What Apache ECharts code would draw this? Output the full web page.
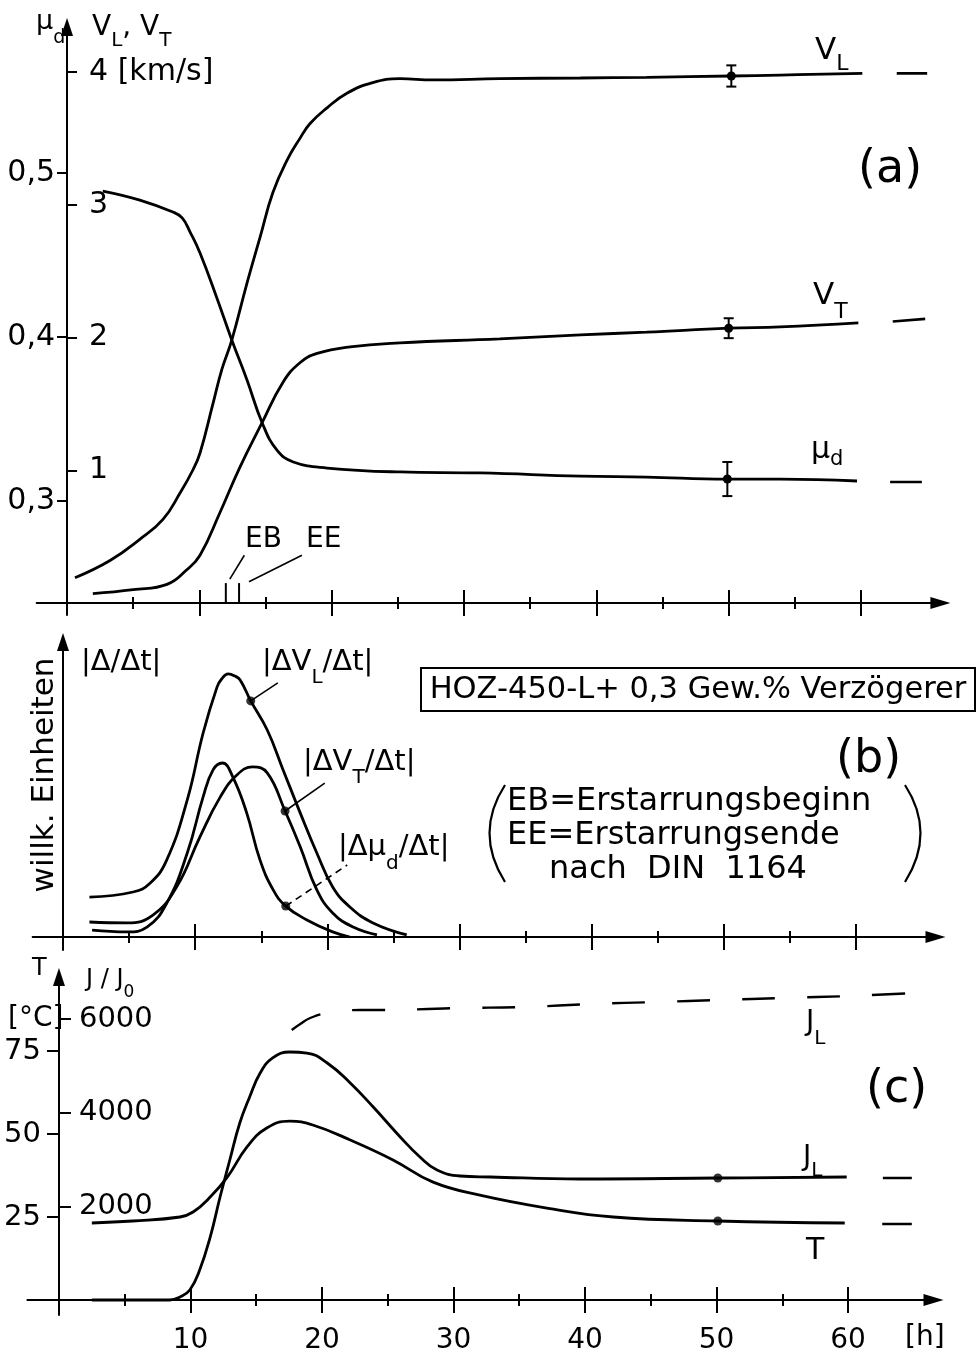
<!DOCTYPE html>
<html>
<head>
<meta charset="utf-8">
<script src="https://cdn.jsdelivr.net/npm/echarts@6/dist/echarts.min.js"></script>
<style>
  html, body { margin: 0; padding: 0; background: #fff; }
  #chart { width: 979px; height: 1358px; }
</style>
</head>
<body>
<div id="chart"></div>
<script>
// ---------- (a) velocities V_L, V_T [km/s] and damping mu_d over time [h] ----------
const vL = [[0.6,0.19],[3.25,0.32],[5.5,0.48],[7.25,0.63],[8.55,0.83],[9.5,1.0],[10.05,1.13],[11.0,1.49],
  [11.7,1.76],[12.45,1.98],[13.6,2.41],[14.6,2.76],[15.55,3.09],[16.65,3.34],[17.6,3.5],[18.35,3.61],
  [19.65,3.73],[21.15,3.84],[23.1,3.92],[25.15,3.95],[27.65,3.94],[32.7,3.95],[38.8,3.955],[43.8,3.96],
  [50.2,3.97],[53.9,3.977],[60.1,3.99]];
const vLTail = [[62.7,3.99],[65.0,3.99]];
const vT = [[1.95,0.07],[5.0,0.10],[7.55,0.14],[9.05,0.25],[10.05,0.36],[11.55,0.68],[13.05,1.02],[14.75,1.36],
  [16.3,1.66],[17.6,1.81],[18.9,1.88],[21.4,1.93],[25.15,1.96],[32.7,1.99],[38.8,2.02],[43.8,2.04],
  [50.0,2.07],[53.9,2.08],[59.8,2.11]];
const vTTail = [[62.4,2.12],[64.85,2.14]];
const muD = [[2.7,0.489],[5.5,0.4835],[8.0,0.4762],[8.7,0.4726],[9.3,0.464],[10.05,0.4512],[11.35,0.4232],
  [12.45,0.3982],[13.6,0.3738],[14.75,0.3476],[15.85,0.3311],[17.1,0.3238],[19.65,0.3201],[25.15,0.3177],
  [31.2,0.3171],[38.8,0.3152],[43.8,0.3146],[49.9,0.3134],[53.9,0.3134],[59.7,0.3122]];
const muDTail = [[62.2,0.3116],[64.6,0.3116]];
// measured points with scatter: [h, value, half range]
const velocityErr = [[50.2,3.97,0.08],[50.0,2.07,0.075]];
const dampingErr = [[49.9,0.3134,0.0104]];
// setting marks: EB (Erstarrungsbeginn) and EE (Erstarrungsende) [h]
const settingMarks = [12.0, 13.0];
const vTicks = [1, 2, 3, 4];
const muTicks = [0.3, 0.4, 0.5];

// ---------- (b) rates |Δ/Δt|, arbitrary units ----------
const rateVL = [[2.0,1.33],[5.3,1.5],[6.6,1.8],[7.85,2.57],[9.4,4.57],[10.6,6.8],[11.65,8.33],[12.0,8.6],
  [12.5,8.77],[13.0,8.7],[13.4,8.57],[14.2,7.87],[15.45,6.9],[16.65,5.57],[17.95,4.13],[19.2,2.8],
  [20.4,1.67],[21.7,1.0],[23.45,0.47],[26.0,0.07]];
const rateVT = [[2.0,0.5],[4.85,0.47],[6.8,0.73],[8.6,1.67],[10.35,3.33],[11.9,4.67],[13.15,5.4],[14.35,5.67],
  [15.45,5.47],[16.8,4.2],[17.95,3.0],[19.2,1.57],[20.4,0.8],[21.95,0.33],[23.75,0.07]];
const rateMu = [[2.2,0.23],[4.85,0.17],[6.35,0.33],[7.85,1.13],[9.4,2.8],[10.6,4.67],[11.35,5.57],[12.05,5.8],
  [12.85,5.33],[13.9,4.13],[14.9,2.57],[15.9,1.57],[16.85,1.03],[18.45,0.57],[20.4,0.17],[21.7,0.0]];
const rateDots = [[14.2,7.87],[16.8,4.2],[16.85,1.03]];
const rateLeaders = [[[14.2,7.87],[16.25,8.47]],[[16.8,4.2],[19.8,5.13]]];
const rateLeaderMu = [[16.85,1.03],[21.5,2.4]];

// ---------- (c) temperature T [°C] and J/J0 ----------
const jL = [[2.5,0],[7.0,0],[8.4,0],[9.2,64],[9.95,214],[10.7,641],[11.5,1345],[12.25,2199],[13.0,3000],
  [13.75,3780],[14.5,4335],[15.3,4847],[16.25,5168],[17.55,5296],[18.85,5274],[20.4,5061],[22.15,4634],
  [23.9,4121],[25.95,3481],[27.45,3054],[28.75,2776],[30.5,2648],[32.8,2627],[39.6,2584],[50.1,2605],[59.9,2627]];
const jLTail = [[62.65,2605],[64.85,2605]];
const jLUpper = [[17.7,5766],[18.35,5894],[19.1,6022],[20.4,6129],[22.9,6193],[25.55,6193],[28.05,6214],
  [30.5,6235],[35.45,6257],[40.55,6321],[45.5,6364],[50.25,6407],[55.05,6449],[60.15,6492],[65.1,6556]];
const temp = [[2.5,23.2],[5.6,23.8],[9.2,25.0],[10.2,26.5],[11.5,31.0],[12.8,37.0],[14.3,46.1],[15.8,51.8],
  [17.55,53.9],[19.3,52.7],[22.15,48.2],[25.4,42.2],[28.45,35.5],[32.0,31.6],[37.1,27.7],[42.15,25.0],
  [50.1,23.8],[59.75,23.2]];
const tempTail = [[62.6,22.9],[64.85,22.9]];
const jLDot = [[50.1,2605]];
const tempDot = [[50.1,23.8]];
const tTicks = [25, 50, 75];
const jTicks = [2000, 4000, 6000];
const hourLabels = [10, 20, 30, 40, 50, 60];
const majorHours = [10, 20, 30, 40, 50, 60];
const minorHours = [5, 15, 25, 35, 45, 55];

const FONT = 'DejaVu Sans';
const INK = '#000';

// ---- panel geometry (pixels) ----
const panels = [
  { left: 36.6, width: 903.8, top: 27, height: 588, xMin: -2.3, xMax: 66, axisOffset: -12 },
  { left: 32.6, width: 902.9, top: 642, height: 308, xMin: -2.3, xMax: 66, axisOffset: -13 },
  { left: 27.4, width: 906.1, top: 977, height: 338, xMin: -2.4, xMax: 66.5, axisOffset: -15 }
];

const grids = panels.map(p => ({ left: p.left, width: p.width, top: p.top, height: p.height,
  containLabel: false, outerBoundsMode: 'none' }));

function xAxesFor(gi, withLabels) {
  const p = panels[gi];
  const base = { type: 'value', gridIndex: gi, min: p.xMin, max: p.xMax, position: 'bottom',
    splitLine: { show: false } };
  const main = Object.assign({}, base, {
    offset: p.axisOffset,
    axisLine: { show: true, onZero: false, symbol: ['none', 'triangle'], symbolSize: [12, 20],
      lineStyle: { color: INK, width: 2 } },
    axisTick: { show: false },
    axisLabel: withLabels ? { show: true, customValues: hourLabels, margin: 41, verticalAlign: 'middle',
      fontSize: 28, fontFamily: FONT, color: INK } : { show: false }
  });
  const major = Object.assign({}, base, {
    offset: p.axisOffset + 13,
    axisLine: { show: false, onZero: false },
    axisTick: { show: true, inside: true, length: 26, customValues: majorHours,
      lineStyle: { color: INK, width: 2 } },
    axisLabel: { show: false }
  });
  const minor = Object.assign({}, base, {
    offset: p.axisOffset + 6,
    axisLine: { show: false, onZero: false },
    axisTick: { show: true, inside: true, length: 12, customValues: minorHours,
      lineStyle: { color: INK, width: 2 } },
    axisLabel: { show: false }
  });
  return [main, major, minor];
}

const xAxes = [].concat(xAxesFor(0, false), xAxesFor(1, false), xAxesFor(2, true));

function yAxis(gi, min, max, opts) {
  const p = panels[gi];
  const x0 = p.left - p.xMin * p.width / (p.xMax - p.xMin);
  return Object.assign({
    type: 'value', gridIndex: gi, min, max, position: 'left', offset: -(x0 - p.left),
    splitLine: { show: false }
  }, opts);
}

const arrowLine = { show: true, onZero: false, symbol: ['none', 'triangle'], symbolSize: [12, 18],
  lineStyle: { color: INK, width: 2 } };
const noLine = { show: false, onZero: false };

const yAxes = [
  // 0: V [km/s]
  yAxis(0, -0.0904, 4.339, {
    axisLine: arrowLine,
    axisTick: { show: true, inside: true, length: 10, customValues: vTicks, lineStyle: { color: INK, width: 2 } },
    axisLabel: { show: true, inside: true, margin: 22, customValues: vTicks, fontSize: 30, fontFamily: FONT,
      color: INK, formatter: v => (v === 4 ? '4 [km/s]' : String(v)) }
  }),
  // 1: mu_d
  yAxis(0, 0.23049, 0.58902, {
    axisLine: noLine,
    axisTick: { show: true, inside: false, length: 10, customValues: muTicks, lineStyle: { color: INK, width: 2 } },
    axisLabel: { show: true, margin: 12, customValues: muTicks, fontSize: 30, fontFamily: FONT, color: INK,
      formatter: v => v.toFixed(1).replace('.', ',') }
  }),
  // 2: rates, arbitrary units
  yAxis(1, -0.4333, 9.8333, {
    axisLine: arrowLine, axisTick: { show: false }, axisLabel: { show: false }
  }),
  // 3: T [°C]
  yAxis(2, -4.518, 97.29, {
    axisLine: arrowLine,
    axisTick: { show: true, inside: false, length: 12, customValues: tTicks, lineStyle: { color: INK, width: 2 } },
    axisLabel: { show: true, margin: 18, customValues: tTicks, fontSize: 29, fontFamily: FONT, color: INK }
  }),
  // 4: J/J0
  yAxis(2, -320.3, 6897.3, {
    axisLine: noLine,
    axisTick: { show: true, inside: true, length: 12, customValues: jTicks, lineStyle: { color: INK, width: 2 } },
    axisLabel: { show: true, inside: true, margin: 20, customValues: jTicks, fontSize: 29, fontFamily: FONT,
      color: INK, formatter: v => String(v) }
  })
];

function curve(data, xi, yi, extra) {
  return Object.assign({
    type: 'line', data, xAxisIndex: xi, yAxisIndex: yi, showSymbol: false, smooth: 0.45,
    lineStyle: { color: INK, width: 2.8 }, silent: true, z: 3
  }, extra || {});
}
function segment(data, xi, yi, width, dash) {
  return { type: 'line', data, xAxisIndex: xi, yAxisIndex: yi, showSymbol: false, silent: true,
    lineStyle: { color: INK, width: width, type: dash || 'solid' }, z: 3 };
}
function dots(data, xi, yi) {
  return { type: 'scatter', data, xAxisIndex: xi, yAxisIndex: yi, symbolSize: 9, silent: true,
    itemStyle: { color: INK }, z: 4 };
}
function errorBars(data, xi, yi) {
  return {
    type: 'custom', data, xAxisIndex: xi, yAxisIndex: yi, silent: true, z: 4,
    renderItem: function (params, api) {
      const x = api.value(0), y = api.value(1), e = api.value(2);
      const c = api.coord([x, y]);
      const t = api.coord([x, y + e]);
      const b = api.coord([x, y - e]);
      const s = { stroke: INK, lineWidth: 2 };
      return { type: 'group', children: [
        { type: 'line', shape: { x1: c[0], y1: t[1], x2: c[0], y2: b[1] }, style: s },
        { type: 'line', shape: { x1: c[0] - 5, y1: t[1], x2: c[0] + 5, y2: t[1] }, style: s },
        { type: 'line', shape: { x1: c[0] - 5, y1: b[1], x2: c[0] + 5, y2: b[1] }, style: s },
        { type: 'circle', shape: { cx: c[0], cy: c[1], r: 4.5 }, style: { fill: INK } }
      ] };
    }
  };
}

const series = [
  // (a)
  curve(vL, 0, 0), segment(vLTail, 0, 0, 2.6),
  curve(vT, 0, 0), segment(vTTail, 0, 0, 2.6),
  curve(muD, 0, 1), segment(muDTail, 0, 1, 2.6),
  errorBars(velocityErr, 0, 0), errorBars(dampingErr, 0, 1),
  segment([[settingMarks[0], 0], [settingMarks[0], 0.15]], 0, 0, 2),
  segment([[settingMarks[1], 0], [settingMarks[1], 0.15]], 0, 0, 2),
  segment([[12.3, 0.18], [13.4, 0.36]], 0, 0, 1.6),
  segment([[13.75, 0.16], [17.75, 0.36]], 0, 0, 1.6),
  // (b)
  curve(rateVL, 3, 2), curve(rateVT, 3, 2), curve(rateMu, 3, 2),
  dots(rateDots, 3, 2),
  segment(rateLeaders[0], 3, 2, 1.6), segment(rateLeaders[1], 3, 2, 1.6),
  segment(rateLeaderMu, 3, 2, 1.6, [7, 5]),
  // (c)
  curve(jL, 6, 4), segment(jLTail, 6, 4, 2.6),
  curve(temp, 6, 3), segment(tempTail, 6, 3, 2.6),
  curve(jLUpper, 6, 4, { lineStyle: { color: INK, width: 2.4, type: [33, 32] } }),
  dots(jLDot, 6, 4), dots(tempDot, 6, 3)
];

// ---- text helpers ----
const measureCtx = document.createElement('canvas').getContext('2d');
function txt(x, y, text, size, extra) {
  return Object.assign({ type: 'text', x, y, silent: true,
    style: Object.assign({ text, fontSize: size, fontFamily: FONT, fill: INK, align: 'left', verticalAlign: 'middle' },
      (extra && extra.style) || {}) }, extra ? { rotation: extra.rotation || 0 } : {});
}
// text with subscripts; parts = [[string, 'n' | 's']], baseline in px
function composite(x, baseline, size, parts, drop) {
  const d = drop == null ? 0.32 : drop;
  const out = [];
  let cx = x;
  parts.forEach(([t, kind]) => {
    const fs = kind === 's' ? Math.round(size * 0.7) : size;
    const b = kind === 's' ? baseline + d * size : baseline;
    measureCtx.font = fs + 'px "' + FONT + '"';
    out.push(txt(cx, b - 0.35 * fs, t, fs));
    cx += measureCtx.measureText(t).width;
  });
  return out;
}

const graphics = [].concat(
  // (a)
  composite(36, 31, 27, [['μ', 'n'], ['d', 's']], 0.5),
  composite(92, 38, 28, [['V', 'n'], ['L', 's'], [', ', 'n'], ['V', 'n'], ['T', 's']], 0.35),
  composite(815, 62, 31, [['V', 'n'], ['L', 's']], 0.33),
  composite(813, 307, 31, [['V', 'n'], ['T', 's']], 0.42),
  composite(811, 461, 30, [['μ', 'n'], ['d', 's']], 0.18),
  [txt(858, 170, '(a)', 46), txt(245, 540, 'EB', 28), txt(306, 540, 'EE', 28)],
  // (b)
  composite(81, 673, 29, [['|Δ/Δt|', 'n']]),
  composite(262, 673, 29, [['|ΔV', 'n'], ['L', 's'], ['/Δt|', 'n']], 0.4),
  composite(303, 773, 29, [['|ΔV', 'n'], ['T', 's'], ['/Δt|', 'n']], 0.4),
  composite(338, 858, 29, [['|Δμ', 'n'], ['d', 's'], ['/Δt|', 'n']], 0.45),
  [
    txt(45, 775, 'willk. Einheiten', 31, { rotation: Math.PI / 2, style: { align: 'center' } }),
    { type: 'rect', shape: { x: 421, y: 668, width: 554, height: 43 }, silent: true,
      style: { fill: 'none', stroke: INK, lineWidth: 2 } },
    txt(698, 690, 'HOZ-450-L+ 0,3 Gew.% Verzögerer', 30.5, { style: { align: 'center' } }),
    txt(836, 760, '(b)', 46),
    { type: 'bezierCurve', shape: { x1: 505, y1: 785, x2: 505, y2: 882, cpx1: 474, cpy1: 833 }, silent: true,
      style: { fill: 'none', stroke: INK, lineWidth: 2.2 } },
    { type: 'bezierCurve', shape: { x1: 905, y1: 785, x2: 905, y2: 882, cpx1: 936, cpy1: 833 }, silent: true,
      style: { fill: 'none', stroke: INK, lineWidth: 2.2 } },
    txt(507, 802, 'EB=Erstarrungsbeginn', 32),
    txt(507, 836, 'EE=Erstarrungsende', 32),
    txt(549, 870, 'nach  DIN  1164', 32)
  ],
  // (c)
  [txt(32, 969, 'T', 24)],
  composite(86, 988, 24, [['J / J', 'n'], ['0', 's']], 0.45),
  [txt(8, 1019, '[°C]', 28)],
  composite(806, 1033, 28, [['J', 'n'], ['L', 's']], 0.45),
  composite(803, 1168, 28, [['J', 'n'], ['L', 's']], 0.35),
  [txt(806, 1251, 'T', 30), txt(866, 1090, '(c)', 46), txt(905, 1338, '[h]', 28)]
);

const chart = echarts.init(document.getElementById('chart'), null, { renderer: 'canvas' });
chart.setOption({
  backgroundColor: '#fff',
  animation: false,
  textStyle: { fontFamily: FONT },
  grid: grids,
  xAxis: xAxes,
  yAxis: yAxes,
  series: series,
  graphic: { elements: graphics }
});
</script>
</body>
</html>
